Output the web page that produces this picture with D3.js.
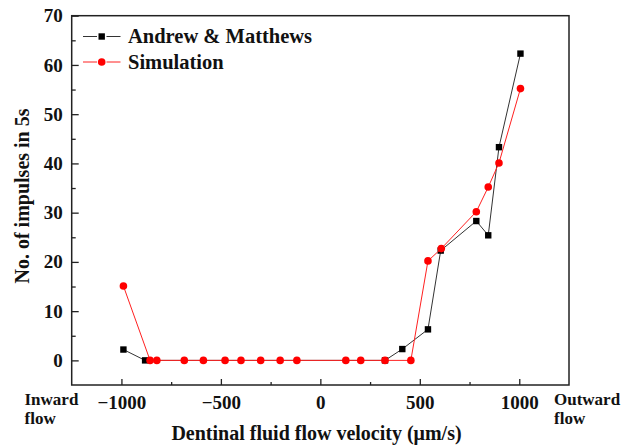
<!DOCTYPE html>
<html><head><meta charset="utf-8">
<script src="https://cdn.jsdelivr.net/npm/d3@7/dist/d3.min.js"></script>
<style>body{margin:0;background:#fff}svg{display:block}</style>
</head><body>
<script>
// Data
const amX = [-990, -881, 325, 412, 541, 605, 784, 844, 898, 1006];
const amY = [2.2, 0, 0, 2.3, 6.3, 22.3, 28.3, 25.4, 43.3, 62.3];
const simX = [-990, -856, -822, -684, -588, -479, -399, -300, -202, -118, 128, 203, 325, 455, 541, 608, 784, 844, 898, 1006];
const simY = [15.1, 0, 0, 0, 0, 0, 0, 0, 0, 0, 0, 0, 0, 0, 20.2, 22.7, 30.2, 35.2, 40.1, 55.2];
const xTicks = [-1000, -500, 0, 500, 1000];
const yTicks = [0, 10, 20, 30, 40, 50, 60, 70];
const seriesNames = ["Andrew & Matthews", "Simulation"];

const W = 622, H = 446;
const L = 71.7, R = 569, T = 15.7, B = 385;
const FONT = "'Liberation Serif','Times New Roman',serif";

const svg = d3.select("body").append("svg").attr("width", W).attr("height", H);
const x = d3.scaleLinear().domain([-1250, 1250]).range([L, R]);
const y = d3.scaleLinear().domain([-5, 70]).range([B, T]);

// Axes (ticks inward)
const xAxis = d3.axisBottom(x).tickValues(xTicks).tickSize(-6).tickPadding(10.5).tickFormat(d3.format("d"));
const xMinor = d3.axisBottom(x).tickValues([-750, -250, 250, 750]).tickSize(-3).tickFormat("");
const yAxis = d3.axisLeft(y).tickValues(yTicks).tickSize(-7).tickPadding(9);
const yMinor = d3.axisLeft(y).tickValues([5, 15, 25, 35, 45, 55, 65]).tickSize(-4).tickFormat("");

function style(g){
  g.select(".domain").remove();
  g.selectAll("line").attr("stroke", "#222").attr("stroke-width", 1.3);
  g.selectAll("text").attr("font-family", FONT).attr("font-weight", "bold").attr("font-size", 19).attr("fill", "#111");
}
svg.append("g").attr("transform", `translate(0,${B})`).call(xAxis).call(style);
svg.append("g").attr("transform", `translate(0,${B})`).call(xMinor).call(style);
svg.append("g").attr("transform", `translate(${L},0)`).call(yAxis).call(style);
svg.append("g").attr("transform", `translate(${L},0)`).call(yMinor).call(style);

// frame
svg.append("rect").attr("x", L).attr("y", T).attr("width", R - L).attr("height", B - T)
  .attr("fill", "none").attr("stroke", "#222").attr("stroke-width", 1.5);

// series
const amData = amX.map((v, i) => [v, amY[i]]);
const simData = simX.map((v, i) => [v, simY[i]]);
const line = d3.line().x(d => x(d[0])).y(d => y(d[1]));

svg.append("path").datum(amData).attr("d", line).attr("fill", "none").attr("stroke", "#333").attr("stroke-width", 1);
svg.selectAll(".am").data(amData).enter().append("rect")
  .attr("x", d => x(d[0]) - 3.2).attr("y", d => y(d[1]) - 3.2).attr("width", 6.4).attr("height", 6.4).attr("fill", "#000");

svg.append("path").datum(simData).attr("d", line).attr("fill", "none").attr("stroke", "#ff2020").attr("stroke-width", 1);
svg.selectAll(".sim").data(simData).enter().append("circle")
  .attr("cx", d => x(d[0])).attr("cy", d => y(d[1])).attr("r", 3.8).attr("fill", "#ff0000");

// legend
const leg = [{c: "#333", m: "rect", fill: "#000", yy: 36.5}, {c: "#ff2020", m: "circle", fill: "#ff0000", yy: 62}];
leg.forEach((l, i) => {
  const g = svg.append("g");
  g.append("line").attr("x1", 83).attr("x2", 97).attr("y1", l.yy).attr("y2", l.yy).attr("stroke", l.c).attr("stroke-width", 1);
  g.append("line").attr("x1", 106.5).attr("x2", 120.5).attr("y1", l.yy).attr("y2", l.yy).attr("stroke", l.c).attr("stroke-width", 1);
  if (l.m === "rect") g.append("rect").attr("x", 101.7 - 3.2).attr("y", l.yy - 3.2).attr("width", 6.4).attr("height", 6.4).attr("fill", l.fill);
  else g.append("circle").attr("cx", 101.7).attr("cy", l.yy).attr("r", 3.8).attr("fill", l.fill);
  g.append("text").attr("x", 128).attr("y", l.yy + 6.5).text(seriesNames[i])
    .attr("font-family", FONT).attr("font-weight", "bold").attr("font-size", 20.5).attr("fill", "#111");
});

// axis titles
svg.append("text").attr("x", 316.5).attr("y", 440).attr("text-anchor", "middle").text("Dentinal fluid flow velocity (\u03bcm/s)")
  .attr("font-family", FONT).attr("font-weight", "bold").attr("font-size", 20).attr("fill", "#111");
svg.append("text").attr("transform", "translate(29,196) rotate(-90)").attr("text-anchor", "middle").text("No. of impulses in 5s")
  .attr("font-family", FONT).attr("font-weight", "bold").attr("font-size", 20).attr("fill", "#111");

// side labels
[["Inward", "flow", 24.5], ["Outward", "flow", 554]].forEach(s => {
  const t = svg.append("text").attr("font-family", FONT).attr("font-weight", "bold").attr("font-size", 17).attr("fill", "#111");
  t.append("tspan").attr("x", s[2]).attr("y", 404.5).text(s[0]);
  t.append("tspan").attr("x", s[2]).attr("y", 424).text(s[1]);
});
</script>
</body></html>
